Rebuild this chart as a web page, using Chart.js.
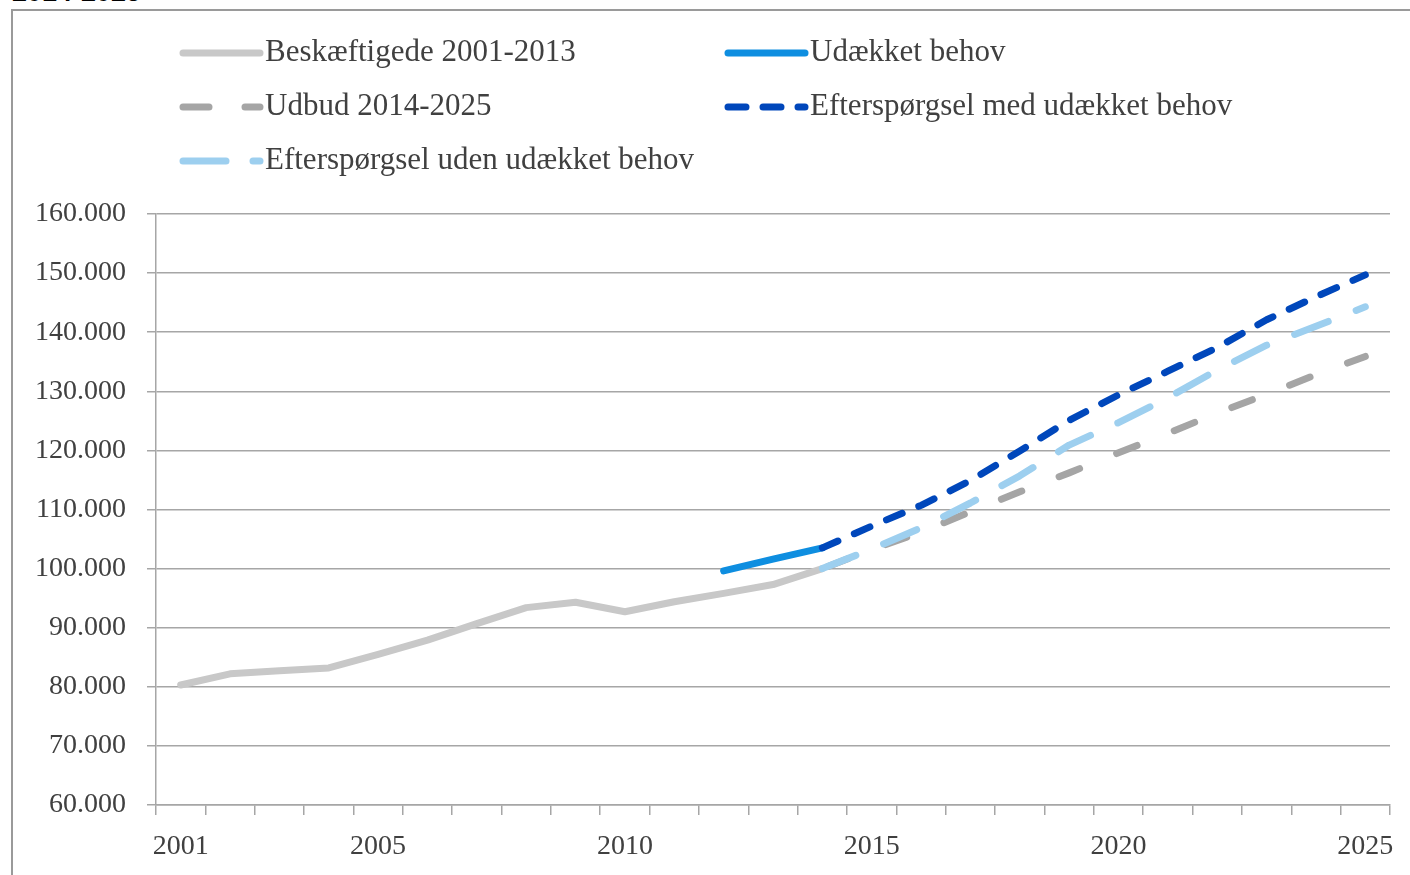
<!DOCTYPE html>
<html>
<head>
<meta charset="utf-8">
<script src="https://cdn.jsdelivr.net/npm/chart.js@4"></script>
<style>
  body { margin: 0; background: #fff; overflow: hidden; }
  #wrap { position: relative; width: 1410px; height: 875px; }
  #frame { position: absolute; left: 11px; top: 9px; width: 1420px; height: 900px;
           border-left: 2px solid #9a9a9a; border-top: 2px solid #9a9a9a; }
  #title { position: absolute; left: 12px; top: -23px; font: bold 27px "Liberation Sans", Arial, sans-serif; color: #000; }
  canvas { position: absolute; left: 0; top: 0; }
</style>
</head>
<body>
<div id="wrap">
  <div id="title">2014-2025</div>
  <div id="frame"></div>
  <canvas id="myChart" width="1410" height="875"></canvas>
</div>
<script>
const years = ['2001','2002','2003','2004','2005','2006','2007','2008','2009','2010','2011','2012','2013',
               '2014','2015','2016','2017','2018','2019','2020','2021','2022','2023','2024','2025'];
const shownYears = ['2001','2005','2010','2015','2020','2025'];
const yTicks = [60000, 70000, 80000, 90000, 100000, 110000, 120000, 130000, 140000, 150000, 160000];

const beskaeftigede = [80300, 82200, 82700, 83200, 85500, 87900, 90700, 93400, 94300, 92700, 94400, 95800, 97300, 100000,
                       null, null, null, null, null, null, null, null, null, null, null];
const udaekket = [null, null, null, null, null, null, null, null, null, null, null, 99600, 101600, 103500,
                  null, null, null, null, null, null, null, null, null, null, null];
const udbud = [null, null, null, null, null, null, null, null, null, null, null, null, null, 100000,
               103200, 106200, 109600, 113000, 116200, 119600, 122900, 126300, 129500, 132800, 135900];
const medBehov = [null, null, null, null, null, null, null, null, null, null, null, null, null, 103500,
                  107200, 110700, 114900, 119900, 125100, 129400, 133400, 137400, 142100, 146000, 149700];
const udenBehov = [null, null, null, null, null, null, null, null, null, null, null, null, null, 100000,
                   103300, 106900, 111100, 115700, 120900, 124700, 128900, 133600, 137800, 141000, 144300];

const serif = '"Liberation Serif", "DejaVu Serif", serif';

// legend drawn by hand: two columns like the original
const legendPlugin = {
  id: 'twoColLegend',
  afterDraw(chart) {
    const c = chart.ctx;
    const slots = [
      {ds: 0, x: 180, y: 53}, {ds: 1, x: 725, y: 53},
      {ds: 2, x: 180, y: 107}, {ds: 3, x: 725, y: 107},
      {ds: 4, x: 180, y: 161}
    ];
    slots.forEach(s => {
      const d = chart.data.datasets[s.ds];
      c.save();
      c.strokeStyle = d.borderColor;
      c.lineWidth = 7;
      c.lineCap = 'round';
      c.setLineDash(d.legendDash || []);
      c.beginPath();
      c.moveTo(s.x + 3, s.y);
      c.lineTo(s.x + 80, s.y);
      c.stroke();
      c.setLineDash([]);
      c.fillStyle = '#404040';
      c.font = '31px ' + serif;
      c.textBaseline = 'middle';
      c.fillText(d.label, s.x + 85, s.y);
      c.restore();
    });
  }
};

const ctx = document.getElementById('myChart').getContext('2d');
const myChart = new Chart(ctx, {
  type: 'line',
  data: {
    labels: years,
    datasets: [
      { label: 'Beskæftigede 2001-2013', data: beskaeftigede, borderColor: '#c8c8c8', order: 5 },
      { label: 'Udækket behov', data: udaekket, borderColor: '#0e8ee0', order: 2 },
      { label: 'Udbud 2014-2025', data: udbud, borderColor: '#a5a5a5', borderDash: [22, 40], borderDashOffset: 56,
        legendDash: [26, 36], order: 4 },
      { label: 'Efterspørgsel med udækket behov', data: medBehov, borderColor: '#0047bb', borderDash: [17, 18],
        legendDash: [18, 17], order: 1 },
      { label: 'Efterspørgsel uden udækket behov', data: udenBehov, borderColor: '#9dcfef', borderDash: [36, 30],
        legendDash: [43, 27], order: 3 }
    ].map(d => Object.assign({
      borderWidth: 7, pointRadius: 0, tension: 0, fill: false,
      borderCapStyle: 'round', borderJoinStyle: 'round', spanGaps: false
    }, d))
  },
  options: {
    responsive: false,
    animation: false,
    layout: { padding: { left: 0, top: 214, right: 20, bottom: 0 } },
    plugins: { legend: { display: false }, tooltip: { enabled: false } },
    scales: {
      x: {
        offset: true,
        grid: { offset: true, drawOnChartArea: false, drawTicks: true, tickLength: 10, color: '#a6a6a6', lineWidth: 1.5 },
        border: { color: '#a6a6a6', width: 1.5 },
        ticks: {
          autoSkip: false, maxRotation: 0, padding: 15,
          color: '#404040', font: { family: serif, size: 28 },
          callback: function(v) { const l = this.getLabelForValue(v); return shownYears.includes(l) ? l : ''; }
        },
        afterFit(scale) { scale.height = 70; }
      },
      y: {
        min: 60000, max: 160000,
        afterBuildTicks(scale) { scale.ticks = yTicks.map(v => ({ value: v })); },
        grid: { color: '#a6a6a6', lineWidth: 1.5, tickLength: 9 },
        border: { color: '#a6a6a6', width: 1.5 },
        ticks: {
          padding: 21, color: '#404040', font: { family: serif, size: 28 },
          callback: v => v.toLocaleString('de-DE')
        },
        afterFit(scale) { scale.width = 156; }
      }
    }
  },
  plugins: [legendPlugin]
});
</script>
</body>
</html>
